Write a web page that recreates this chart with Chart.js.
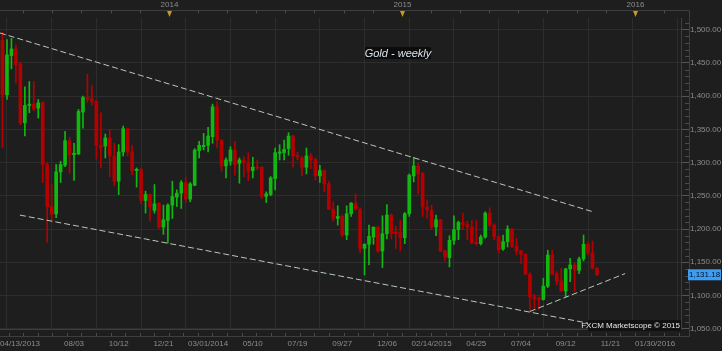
<!DOCTYPE html>
<html>
<head>
<meta charset="utf-8">
<script src="https://cdn.jsdelivr.net/npm/chart.js@4.4.0/dist/chart.umd.min.js"></script>
<style>
  html, body { margin: 0; padding: 0; background: #1e1e1e; }
  #wrap { width: 722px; height: 351px; }
</style>
</head>
<body>
<div id="wrap"><canvas id="chart" width="722" height="351"></canvas></div>
<script>
// weekly gold candles, index 0 = week of 04/13/2013
const opens = [1484,1402,1461,1471,1448,1360,1386,1388,1382,1390,
  1297,1234,1223,1286,1296,1333,1312,1313,1376,1398,
  1396,1392,1326,1325,1337,1310,1272,1316,1351,1316,
  1288,1290,1243,1252,1228,1239,1203,1213,1236,1248,
  1254,1270,1245,1266,1318,1324,1326,1339,1384,1334,
  1295,1302,1319,1299,1303,1300,1288,1293,1293,1249,
  1252,1276,1314,1315,1321,1340,1311,1307,1293,1310,
  1305,1280,1288,1268,1230,1216,1219,1191,1223,1239,
  1230,1171,1177,1188,1203,1167,1193,1221,1196,1195,
  1187,1223,1280,1295,1284,1233,1228,1203,1214,1167,
  1157,1183,1199,1210,1207,1203,1180,1178,1188,1224,
  1206,1189,1170,1181,1200,1174,1167,1162,1132,1098,
  1096,1094,1114,1161,1133,1122,1107,1140,1146,1138,
  1155,1177,1164,1141];
const highs = [1496,1485,1487,1477,1451,1414,1422,1422,1395,1392,
  1300,1267,1297,1302,1347,1338,1329,1380,1400,1433,
  1416,1394,1375,1343,1350,1329,1327,1355,1352,1326,
  1292,1291,1257,1253,1267,1240,1236,1238,1272,1259,
  1273,1278,1270,1321,1332,1344,1353,1388,1392,1334,
  1307,1324,1332,1307,1309,1315,1308,1304,1294,1256,
  1279,1322,1327,1334,1345,1341,1316,1309,1322,1314,
  1307,1296,1289,1272,1241,1235,1221,1235,1240,1253,
  1232,1178,1206,1203,1204,1220,1237,1223,1204,1213,
  1225,1283,1308,1299,1285,1244,1236,1221,1215,1168,
  1190,1220,1212,1224,1212,1213,1213,1191,1226,1232,
  1208,1190,1191,1205,1201,1186,1168,1163,1134,1102,
  1098,1126,1168,1168,1136,1141,1141,1156,1149,1158,
  1191,1180,1182,1142];
const lows = [1323,1395,1441,1420,1357,1340,1375,1378,1367,1270,
  1180,1212,1217,1270,1294,1284,1273,1312,1352,1391,
  1386,1306,1292,1307,1279,1265,1252,1310,1310,1282,
  1263,1238,1224,1212,1224,1201,1192,1179,1216,1234,
  1231,1240,1241,1265,1307,1319,1316,1329,1322,1287,
  1277,1296,1281,1269,1279,1273,1277,1289,1246,1240,
  1250,1259,1304,1304,1311,1293,1304,1280,1283,1291,
  1274,1270,1256,1229,1212,1206,1188,1184,1219,1229,
  1164,1131,1146,1177,1165,1142,1185,1185,1171,1167,
  1178,1219,1271,1253,1219,1216,1199,1190,1166,1152,
  1143,1177,1184,1199,1184,1178,1176,1176,1186,1203,
  1184,1164,1168,1173,1172,1161,1148,1131,1076,1081,
  1079,1093,1112,1131,1116,1106,1098,1121,1106,1133,
  1152,1161,1140,1130];
const closes = [1402,1462,1471,1447,1360,1386,1388,1381,1390,1297,
  1234,1222,1286,1297,1333,1312,1314,1377,1398,1395,
  1392,1326,1322,1337,1310,1272,1316,1351,1316,1288,
  1290,1243,1252,1233,1238,1203,1214,1236,1249,1254,
  1270,1245,1268,1319,1326,1326,1340,1384,1334,1295,
  1304,1319,1297,1304,1300,1287,1293,1292,1249,1253,
  1277,1315,1316,1320,1340,1310,1308,1293,1310,1304,
  1280,1288,1268,1230,1216,1219,1191,1223,1239,1230,
  1171,1177,1189,1203,1167,1193,1221,1194,1194,1187,
  1223,1281,1295,1283,1233,1229,1203,1214,1167,1158,
  1183,1199,1210,1207,1203,1179,1178,1188,1224,1206,
  1189,1169,1181,1200,1174,1167,1162,1132,1098,1095,
  1094,1114,1161,1132,1121,1107,1140,1146,1138,1155,
  1177,1164,1141,1131.18];

// axis ticks (in weeks since 04/13/2013)
const gridWeeks = [6, 16, 26, 36, 46, 56, 66, 76, 86, 96, 106, 116, 126, 136, 146];
const dateTickWeeks = [0, 16, 26, 36, 46, 56, 66, 76, 86, 96, 106, 116, 126, 136, 146];
const dateTickLabels = ['04/13/2013', '08/03', '10/12', '12/21', '03/01/2014', '05/10', '07/19',
  '09/27', '12/06', '02/14/2015', '04/25', '07/04', '09/12', '11/21', '01/30/2016'];
const yearWeeks = [37.2, 89.3, 141.4];
const yearLabels = ['2014', '2015', '2016'];

// drawn trend lines
const upperChannel = [{x: -0.56, y: 1495}, {x: 132.1, y: 1226}];
const lowerChannel = [{x: 3.9, y: 1221}, {x: 135.2, y: 1053}];
const supportLine = [{x: 118, y: 1076}, {x: 139.3, y: 1133}];

const lastPrice = closes[closes.length - 1];
const GREEN = '#10b810';
const RED = '#b40000';
const FONT = 'Liberation Sans';

const candleColors = opens.map((o, i) => (closes[i] >= o ? GREEN : RED));
const bodyData = opens.map((o, i) => ({x: i, y: [o, closes[i]]}));
const wickData = opens.map((o, i) => ({x: i, y: [lows[i], highs[i]]}));

const fmt = (v) => v.toLocaleString('en-US', {minimumFractionDigits: 2, maximumFractionDigits: 2});

const decor = {
  id: 'decor',
  afterDraw(chart) {
    const ctx = chart.ctx;
    const area = chart.chartArea;
    const xs = chart.scales.x;
    const ys = chart.scales.y;
    const rulerRight = 689.5;
    const wAt = (px) => xs.getValueForPixel(px);
    ctx.save();

    // top ruler
    ctx.strokeStyle = '#3e3e3e';
    ctx.lineWidth = 1;
    ctx.beginPath();
    ctx.moveTo(0, 10.5); ctx.lineTo(rulerRight, 10.5);
    ctx.moveTo(rulerRight, 10.5); ctx.lineTo(rulerRight, 336.5);
    ctx.stroke();
    const step = 52.14 / 8;
    ctx.strokeStyle = '#4a4a4a';
    ctx.beginPath();
    let v = yearWeeks[0] - Math.ceil((yearWeeks[0] - xs.min) / step) * step;
    for (; v <= wAt(rulerRight); v += step) {
      const px = Math.round(xs.getPixelForValue(v)) + 0.5;
      ctx.moveTo(px, 10.5); ctx.lineTo(px, 13.5);
    }
    ctx.stroke();

    // bottom ruler
    ctx.strokeStyle = '#3e3e3e';
    ctx.beginPath();
    ctx.moveTo(0, 336.5); ctx.lineTo(rulerRight, 336.5);
    ctx.stroke();
    ctx.strokeStyle = '#4a4a4a';
    ctx.beginPath();
    v = yearWeeks[0] - Math.ceil((yearWeeks[0] - xs.min) / (step / 2)) * (step / 2);
    for (; v <= wAt(rulerRight); v += step / 2) {
      const px = Math.round(xs.getPixelForValue(v)) + 0.5;
      ctx.moveTo(px, 333); ctx.lineTo(px, 336);
    }
    ctx.stroke();

    // right ruler minor ticks
    ctx.beginPath();
    for (let p = Math.ceil(ys.min / 10) * 10; p <= ys.max; p += 10) {
      if (p % 50 === 0) continue;
      const py = Math.round(ys.getPixelForValue(p)) + 0.5;
      ctx.moveTo(area.right + 4, py); ctx.lineTo(area.right + 8, py);
    }
    ctx.stroke();

    // year labels and markers
    ctx.font = '8px ' + FONT;
    ctx.textBaseline = 'middle';
    yearWeeks.forEach((w, i) => {
      const px = Math.round(xs.getPixelForValue(w)) + 0.5;
      ctx.fillStyle = '#c99a14';
      ctx.beginPath();
      ctx.moveTo(px - 2.5, 11); ctx.lineTo(px + 2.5, 11); ctx.lineTo(px, 17);
      ctx.closePath(); ctx.fill();
      ctx.fillStyle = '#8c8c8c';
      ctx.textAlign = 'center';
      ctx.fillText(yearLabels[i], px, 5);
    });

    // date labels
    ctx.textAlign = 'left';
    ctx.fillStyle = '#8c8c8c';
    dateTickWeeks.forEach((w, i) => {
      const tw = ctx.measureText(dateTickLabels[i]).width;
      const px = Math.max(xs.getPixelForValue(w) - tw / 2, 0);
      ctx.fillText(dateTickLabels[i], px, 344);
    });

    // last price tag
    const py = ys.getPixelForValue(lastPrice);
    ctx.fillStyle = '#3d9df2';
    ctx.fillRect(688, py - 5.5, 33, 11);
    ctx.fillStyle = '#06122a';
    ctx.fillText(fmt(lastPrice), 689, py + 0.5);

    // title box
    ctx.fillStyle = '#0c0c0c';
    ctx.fillRect(365, 47, 66, 12);
    ctx.font = 'italic 11px ' + FONT;
    ctx.textAlign = 'center';
    ctx.fillStyle = '#dbe3ec';
    ctx.fillText('Gold - weekly', 398, 53.5);

    // watermark
    ctx.fillStyle = '#111111';
    ctx.fillRect(588, 320, area.right - 588, 11);
    ctx.font = '8px ' + FONT;
    ctx.textAlign = 'right';
    ctx.fillStyle = '#e6e6e6';
    ctx.fillText('FXCM Marketscope \u00a9 2015', area.right - 1, 325.5);

    ctx.restore();
  }
};

const trend = (data) => ({
  type: 'line',
  data: data,
  borderColor: '#b8c9b8',
  borderWidth: 1,
  borderDash: [6, 3],
  pointRadius: 0,
  fill: false,
  order: 0
});

new Chart(document.getElementById('chart'), {
  type: 'bar',
  data: {
    datasets: [
      {data: wickData, backgroundColor: candleColors, barThickness: 1, grouped: false, order: 2},
      {data: bodyData, backgroundColor: candleColors, barThickness: 3, grouped: false, minBarLength: 1, order: 1},
      trend(upperChannel),
      trend(lowerChannel),
      trend(supportLine)
    ]
  },
  options: {
    responsive: false,
    animation: false,
    devicePixelRatio: 1,
    layout: {padding: {top: 18, left: 0, right: 0, bottom: 0}},
    plugins: {legend: {display: false}, tooltip: {enabled: false}},
    scales: {
      x: {
        type: 'linear',
        min: -0.56,
        max: 151.8,
        offset: false,
        afterFit: (s) => { s.height = 22; },
        afterBuildTicks: (s) => { s.ticks = gridWeeks.map((w) => ({value: w})); },
        grid: {color: '#2d2d2d', drawTicks: false},
        border: {color: '#3e3e3e'},
        ticks: {display: false}
      },
      y: {
        position: 'right',
        min: 1049.6,
        max: 1517.6,
        afterFit: (s) => { s.width = 41; },
        grid: {color: '#2d2d2d', tickColor: '#555555', tickLength: 8},
        border: {color: '#3e3e3e'},
        ticks: {
          stepSize: 50,
          includeBounds: false,
          padding: 1,
          color: '#8c8c8c',
          font: {family: FONT, size: 8},
          callback: (val) => fmt(val)
        }
      }
    }
  },
  plugins: [decor]
});
</script>
</body>
</html>
